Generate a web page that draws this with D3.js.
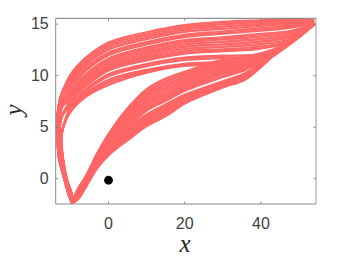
<!DOCTYPE html>
<html>
<head>
<meta charset="utf-8">
<script src="https://cdn.jsdelivr.net/npm/d3@7"></script>
<style>
  html, body { margin: 0; background: #fff; }
  svg { display: block; }
  .tick text { font-family: "Liberation Sans", sans-serif; font-size: 16px; fill: #404040; }
  .axis-title { font-family: "Liberation Serif", serif; font-style: italic; font-size: 25px; fill: #262626; }
</style>
</head>
<body>
<svg id="chart" width="349" height="259"></svg>
<script>
// Upper arcs, read right to left: y at each x in upperXs
const upperXs = [54, 48, 40, 30, 20, 10, 0, -6, -10];
const upperStrands = [
  [15.36, 15.46, 15.36, 15.21, 14.90, 14.21, 13.22, 11.72, 10.07],
  [15.31, 15.36, 15.21, 15.00, 14.69, 13.98, 13.00, 11.49, 9.85],
  [15.26, 15.21, 15.02, 14.77, 14.48, 13.76, 12.77, 11.25, 9.62],
  [15.21, 15.07, 14.83, 14.55, 14.26, 13.55, 12.53, 11.00, 9.33],
  [15.17, 14.87, 14.60, 14.28, 13.96, 13.26, 12.22, 10.70, 9.06],
  [15.17, 14.68, 14.39, 14.08, 13.76, 13.04, 11.99, 10.46, 8.80],
  [15.12, 14.34, 14.05, 13.72, 13.45, 12.74, 11.66, 10.11, 8.49],
  [15.12, 14.15, 13.81, 13.52, 13.26, 12.54, 11.47, 9.91, 8.28],
  [15.12, 13.95, 13.56, 13.28, 13.04, 12.33, 11.25, 9.70, 8.08],
  [15.07, 13.76, 13.32, 13.04, 12.81, 12.12, 11.04, 9.50, 7.88],
  [15.07, 13.56, 13.08, 12.80, 12.58, 11.91, 10.84, 9.31, 7.69],
  [15.07, 13.37, 12.84, 12.55, 12.36, 11.70, 10.67, 9.14, 7.54],
  [15.02, 13.32, 12.64, 12.38, 12.15, 11.50, 10.51, 8.96, 7.40],
  [15.02, 13.27, 12.11, 11.93, 11.74, 11.11, 10.13, 8.65, 7.11],
  [15.02, 13.27, 11.91, 11.72, 11.53, 10.93, 9.95, 8.50, 6.96],
  [15.02, 13.22, 11.62, 11.33, 11.15, 10.57, 9.60, 8.24, 6.77],
  [15.02, 13.22, 11.48, 11.21, 11.06, 10.43, 9.37, 8.08, 6.62],
  [14.97, 13.17, 11.28, 11.04, 10.96, 10.30, 9.10, 7.95, 6.48]
];

// Left arm, going down: x at each y in tailYs, outermost first
const tailYs = [9, 8, 7, 6, 5, 4, 2, 0, -1.5, -2.36];
const tailStrands = [
  [-11.4, -12.5, -13.1, -13.4, -13.5, -13.4, -13.0, -11.6, -10.5, -9.6],
  [-10.6, -11.8, -12.8, -13.2, -13.3, -13.2, -12.8, -11.4, -10.3, -9.6],
  [-10.2, -11.0, -12.2, -12.9, -13.1, -13.0, -12.6, -11.3, -10.1, -9.6],
  [-10.0, -10.5, -11.3, -12.3, -12.8, -12.8, -12.3, -11.1, -9.9, -9.6],
  [-10.0, -10.0, -10.4, -11.0, -11.9, -12.4, -12.0, -11.0, -9.7, -9.6]
];
// y at x = -10 above which a strand takes each tail
const tailCuts = [9.2, 8.4, 7.6, 7, 0];

// Rising band: y at each x in lowerXs
const lowerXs = [-9.6, -8, -6, -3, 0, 5, 10, 15, 20, 30, 36, 45, 54];
const lowerStrands = [
  [-2.36, -1.00, 0.17, 2.40, 4.30, 6.80, 8.66, 9.70, 10.35, 11.52, 11.80, 12.79, 15.02],
  [-2.36, -1.08, 0.09, 2.30, 4.17, 6.60, 8.42, 9.42, 10.12, 11.33, 11.64, 12.77, 15.02],
  [-2.36, -1.15, 0.02, 2.19, 4.04, 6.38, 8.17, 9.14, 9.88, 11.14, 11.48, 12.75, 15.02],
  [-2.36, -1.22, -0.06, 2.09, 3.90, 6.15, 7.90, 8.86, 9.62, 10.94, 11.30, 12.73, 15.02],
  [-2.36, -1.29, -0.13, 1.99, 3.76, 5.93, 7.63, 8.58, 9.38, 10.75, 11.14, 12.71, 15.02],
  [-2.36, -1.37, -0.20, 1.88, 3.61, 5.70, 7.36, 8.30, 9.13, 10.55, 10.96, 12.70, 15.02],
  [-2.36, -1.44, -0.27, 1.79, 3.47, 5.47, 7.09, 8.03, 8.90, 10.36, 10.80, 12.68, 15.02],
  [-2.36, -1.51, -0.35, 1.68, 3.31, 5.23, 6.83, 7.77, 8.72, 10.17, 10.64, 12.66, 15.02],
  [-2.36, -1.58, -0.42, 1.58, 3.16, 5.00, 6.63, 7.58, 8.56, 9.89, 10.60, 12.64, 15.02],
  [-2.36, -1.66, -0.49, 1.48, 2.98, 4.75, 6.21, 7.18, 8.12, 9.44, 10.24, 12.62, 15.02],
  [-2.36, -1.73, -0.56, 1.39, 2.84, 4.55, 5.98, 6.99, 7.96, 9.34, 10.14, 12.60, 15.02],
  [-2.36, -1.79, -0.62, 1.30, 2.71, 4.35, 5.80, 6.77, 7.80, 9.22, 10.02, 12.59, 15.02],
  [-2.36, -1.85, -0.69, 1.20, 2.56, 4.15, 5.56, 6.53, 7.64, 9.12, 9.87, 12.57, 15.02],
  [-2.36, -1.91, -0.75, 1.12, 2.43, 3.95, 5.33, 6.30, 7.48, 9.00, 9.78, 12.55, 15.02],
  [-2.36, -1.97, -0.81, 1.04, 2.30, 3.76, 5.12, 6.09, 7.32, 8.88, 9.68, 12.54, 15.02]
];

const origin = [[0, -0.15]];
const xTicks = [0, 20, 40];
const yTicks = [0, 5, 10, 15];

const margin = { left: 55.7, right: 33, top: 18.3, bottom: 55 };
const width = 349, height = 259;
const lineColor = '#ff6666';

const svg = d3.select('#chart');
const x = d3.scaleLinear().domain([-13.86, 54.46]).range([margin.left, width - margin.right]);
const y = d3.scaleLinear().domain([-2.456, 15.57]).range([height - margin.bottom, margin.top]);

svg.append('clipPath').attr('id', 'plot-clip').append('rect')
  .attr('x', margin.left).attr('y', margin.top)
  .attr('width', width - margin.left - margin.right)
  .attr('height', height - margin.top - margin.bottom);

const line = d3.line()
  .x(d => x(d[0]))
  .y(d => y(d[1]))
  .curve(d3.curveCatmullRom.alpha(0.5));

// Join an upper arc with the tail that matches where it leaves x = -10
function upperPath(values) {
  const last = values[values.length - 1];
  const tail = tailStrands[tailCuts.findIndex(c => last >= c)];
  const points = values.map((v, i) => [upperXs[i], v]);
  tailYs.forEach((t, i) => {
    if (t < last - 0.6) points.push([tail[i], t]);
  });
  return points;
}

const plot = svg.append('g').attr('clip-path', 'url(#plot-clip)');

plot.selectAll('path.upper')
  .data(upperStrands.map(upperPath))
  .join('path')
  .attr('class', 'upper')
  .attr('d', line)
  .attr('fill', 'none')
  .attr('stroke', lineColor)
  .attr('stroke-width', 2.4);

plot.selectAll('path.lower')
  .data(lowerStrands.map(s => s.map((v, i) => [lowerXs[i], v])))
  .join('path')
  .attr('class', 'lower')
  .attr('d', line)
  .attr('fill', 'none')
  .attr('stroke', lineColor)
  .attr('stroke-width', 2.7);

svg.selectAll('circle.origin')
  .data(origin)
  .join('circle')
  .attr('class', 'origin')
  .attr('cx', d => x(d[0]))
  .attr('cy', d => y(d[1]))
  .attr('r', 4.4)
  .attr('fill', '#000');

// Box axes, ticks pointing inward
function styleAxis(g, color) {
  g.select('.domain').attr('stroke', color).attr('stroke-width', 1);
  g.selectAll('.tick line').attr('stroke', '#777').attr('stroke-width', 0.8);
}

svg.append('g')
  .attr('transform', `translate(0,${height - margin.bottom})`)
  .call(d3.axisBottom(x).tickValues(xTicks).tickSizeInner(-2.6).tickSizeOuter(0).tickPadding(14).offset(0))
  .call(styleAxis, '#8a8a8a');

svg.append('g')
  .attr('transform', `translate(0,${margin.top})`)
  .call(d3.axisTop(x).tickValues(xTicks).tickSizeInner(-2.6).tickSizeOuter(0).tickFormat('').offset(0))
  .call(styleAxis, '#777');

svg.append('g')
  .attr('transform', `translate(${margin.left},0)`)
  .call(d3.axisLeft(y).tickValues(yTicks).tickSizeInner(-2.6).tickSizeOuter(0).tickPadding(7).offset(0))
  .call(styleAxis, '#8a8a8a');

svg.append('g')
  .attr('transform', `translate(${width - margin.right},0)`)
  .call(d3.axisRight(y).tickValues(yTicks).tickSizeInner(-2.6).tickSizeOuter(0).tickFormat('').offset(0))
  .call(styleAxis, '#9a9a9a');

svg.append('text')
  .attr('class', 'axis-title')
  .attr('x', 185).attr('y', 252)
  .attr('text-anchor', 'middle')
  .text('x');

svg.append('text')
  .attr('class', 'axis-title')
  .attr('transform', 'translate(22,110) rotate(-90)')
  .attr('text-anchor', 'middle')
  .text('y');
</script>
</body>
</html>
